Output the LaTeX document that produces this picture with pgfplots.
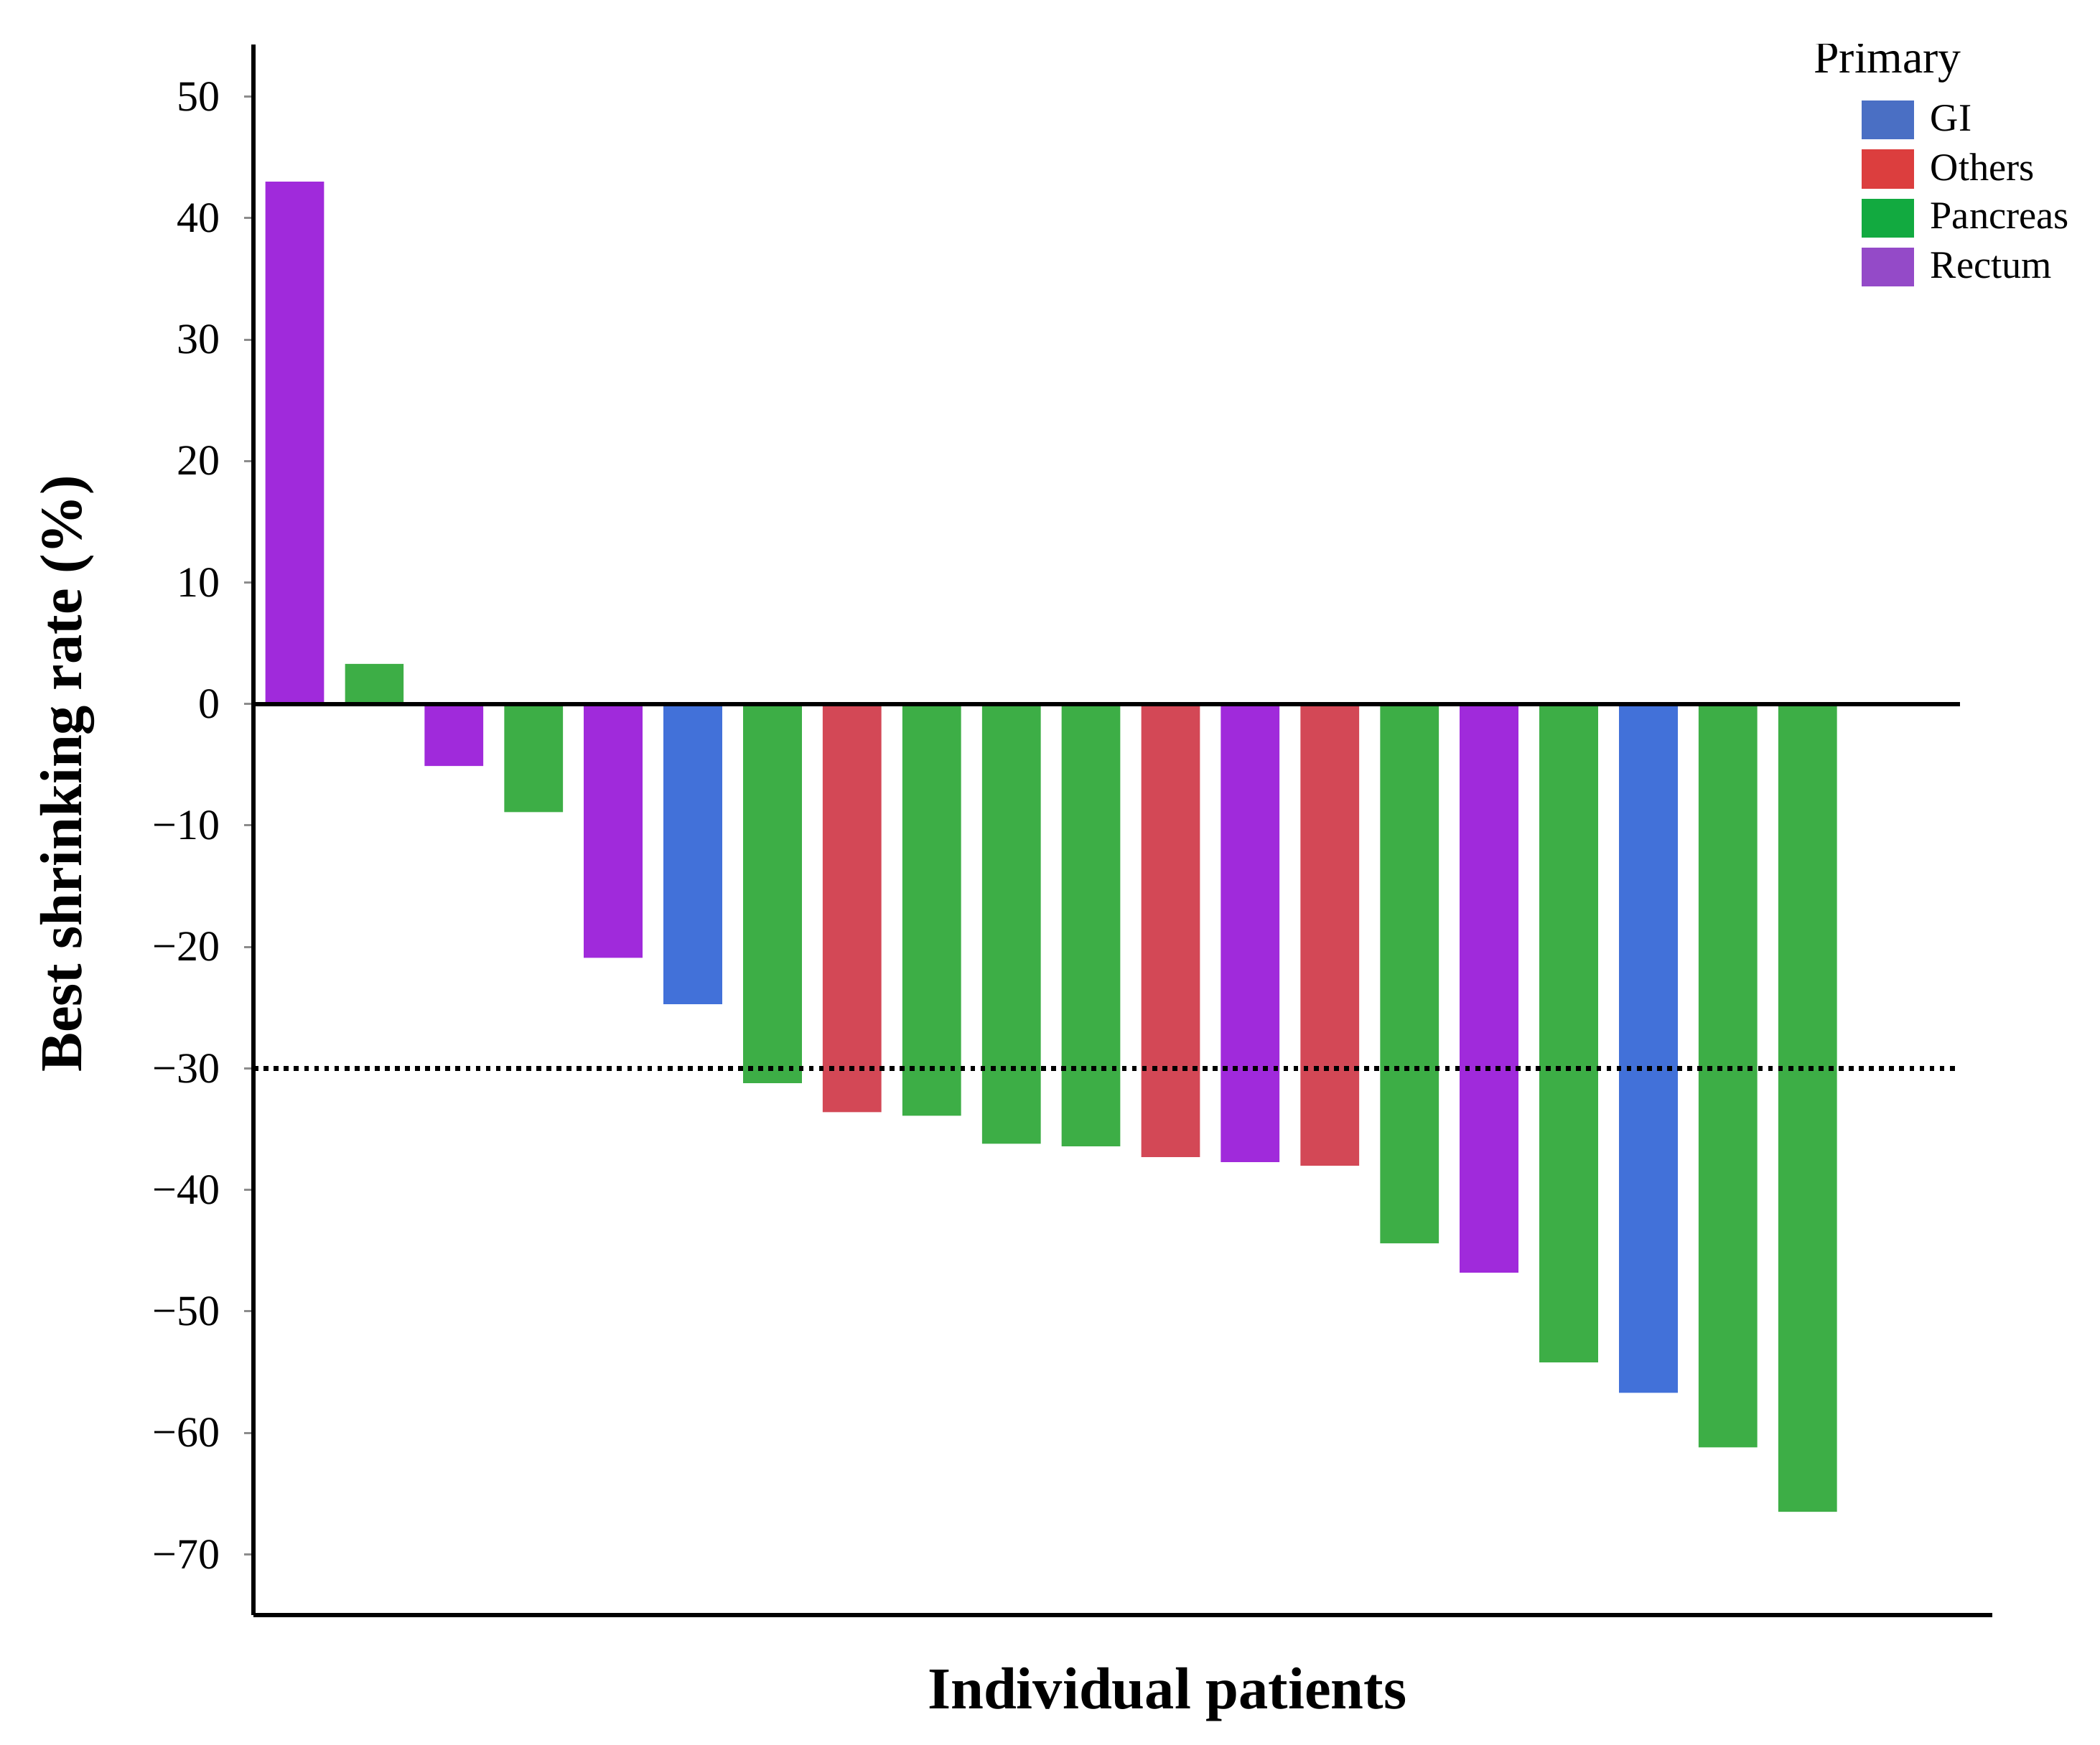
\documentclass[border=0pt]{standalone}
\usepackage{fontspec}
\setmainfont{Liberation Serif}
\usepackage{pgfplots}
\pgfplotsset{compat=1.18}
\definecolor{cPur}{HTML}{A02ADB}
\definecolor{cGrn}{HTML}{3DAE46}
\definecolor{cRed}{HTML}{D34856}
\definecolor{cBlu}{HTML}{4271D9}
\definecolor{lGI}{HTML}{4A6FC4}
\definecolor{lOth}{HTML}{DC3E3E}
\definecolor{lPan}{HTML}{12AA40}
\definecolor{lRec}{HTML}{944AC8}
\pgfplotsset{legsq/.style={legend image code/.code={\fill[##1] (0pt,-7.25pt) rectangle (19.5pt,7.25pt);}}}
\begin{document}
\begin{tikzpicture}
\useasboundingbox (-94.2pt,-48.25pt) rectangle (685.8pt,600pt);
\begin{axis}[
  scale only axis, width=645.8pt, height=583.5pt,
  at={(0pt,0pt)}, anchor=south west,
  xmin=0.484, xmax=22.32, ymin=-75, ymax=54.3,
  axis x line=bottom, axis y line=left,
  axis line style={-, black, line width=1.6pt},
  xtick=\empty,
  ytick={-70,-60,-50,-40,-30,-20,-10,0,10,20,30,40,50},
  yticklabels={−70,−60,−50,−40,−30,−20,−10,0,10,20,30,40,50},
  tick align=outside, major tick length=3.5pt,
  ytick style={black!45, line width=0.8pt},
  yticklabel style={font=\fontsize{16}{16}\selectfont, inner sep=0pt, anchor=east, xshift=-8.8pt},
  xlabel={Individual patients},
  xlabel style={at={(axis description cs:0.5254,-0.0595)}, anchor=base, inner sep=0pt, font=\bfseries\fontsize{22}{22}\selectfont},
  ylabel={Best shrinking rate (\%)},
  ylabel style={at={(axis description cs:-0.0991,0.5356)}, anchor=base, inner sep=0pt, font=\bfseries\fontsize{22}{22}\selectfont},
  legend style={at={(0.9249,0.9644)}, anchor=north west, draw=none, fill=none,
    inner sep=0pt, outer sep=0pt, row sep=3.75pt, column sep=6pt,
    font=\fontsize{14.5}{17}\selectfont, nodes={inner sep=0pt, outer sep=0pt}},
  legend cell align=left,
]
\addplot[ybar, bar shift=0pt, bar width=0.737, fill=cPur, draw=none, forget plot]
  coordinates {(1,43.0) (3,-5.1) (5,-20.9) (13,-37.7) (16,-46.8)};
\addplot[ybar, bar shift=0pt, bar width=0.737, fill=cGrn, draw=none, forget plot]
  coordinates {(2,3.3) (4,-8.9) (7,-31.2) (9,-33.9) (10,-36.2) (11,-36.4) (15,-44.4) (17,-54.2) (19,-61.2) (20,-66.5)};
\addplot[ybar, bar shift=0pt, bar width=0.737, fill=cRed, draw=none, forget plot]
  coordinates {(8,-33.6) (12,-37.3) (14,-38.0)};
\addplot[ybar, bar shift=0pt, bar width=0.737, fill=cBlu, draw=none, forget plot]
  coordinates {(6,-24.7) (18,-56.7)};
\addplot[black, line width=1.6pt, forget plot] coordinates {(0.484,0) (21.91,0)};
\addplot[black, line width=1.8pt, dash pattern=on 1.8pt off 1.95pt, forget plot] coordinates {(0.484,-30) (21.86,-30)};
\addlegendimage{legsq, fill=lGI, draw=none}
\addlegendentry{GI}
\addlegendimage{legsq, fill=lOth, draw=none}
\addlegendentry{Others}
\addlegendimage{legsq, fill=lPan, draw=none}
\addlegendentry{Pancreas}
\addlegendimage{legsq, fill=lRec, draw=none}
\addlegendentry{Rectum}
\node[anchor=base west, inner sep=0pt, font=\fontsize{17}{17}\selectfont] at (rel axis cs:0.8970,0.9820) {Primary};
\end{axis}
\end{tikzpicture}
\end{document}
